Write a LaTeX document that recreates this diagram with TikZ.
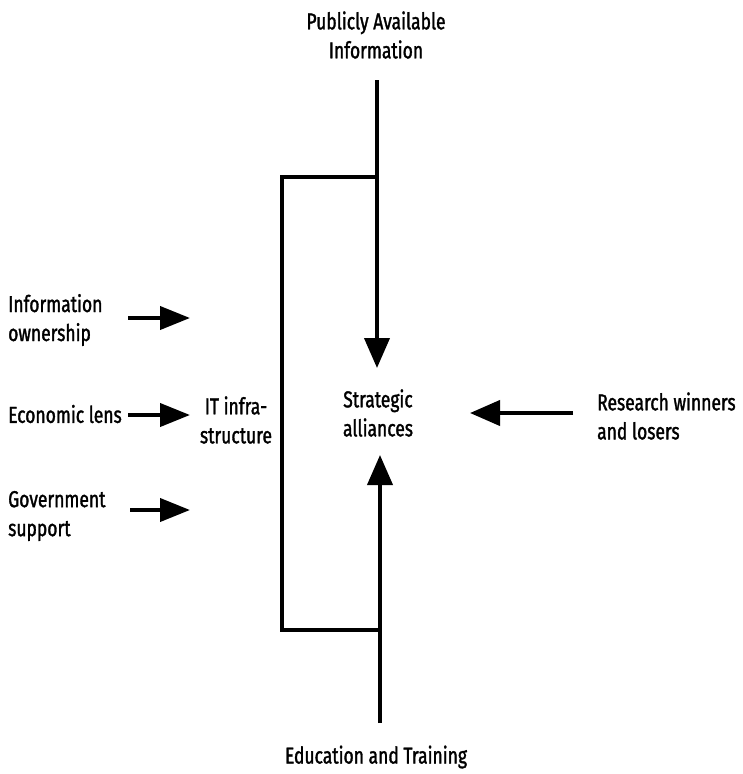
\documentclass[tikz,border=0pt]{standalone}
\usepackage{fontspec}
\setmainfont{Fira Sans}[FakeStretch=0.76, FakeBold=1.4]
\usetikzlibrary{arrows.meta}
\begin{document}
\begin{tikzpicture}[x=1pt,y=-1pt,
  label/.style={inner sep=0pt, align=center, font=\fontsize{23}{29}\selectfont},
  lab/.style={label, align=left, anchor=west},
  flow/.style={line width=4pt, -{Triangle[length=30pt,width=25pt]}},
  side/.style={line width=4pt, -{Triangle[length=30pt,width=23pt]}},
  frame/.style={line width=4pt, line join=miter}]
\useasboundingbox[fill=white] (0,0) rectangle (743,774);

% labels
\node[label] (pub) at (376,35) {Publicly Available\\Information};
\node[lab] (own) at (8,320) {Information\\ownership};
\node[lab] (eco) at (8,414) {Economic lens};
\node[lab] (gov) at (8,516) {Government\\support};
\node[label] (it) at (236,420) {IT infra-\\structure};
\node[label] (sa) at (378,413) {Strategic\\alliances};
\node[lab] (rw) at (597,416) {Research winners\\and losers};
\node[label] (edu) at (376,757) {Education and Training};

% arrow end points
\coordinate (topStart) at (377,80);
\coordinate (topTip) at (377,368);
\coordinate (botStart) at (380,723);
\coordinate (botTip) at (380,455);
\coordinate (ownA) at (128,318);
\coordinate (ownB) at (190,318);
\coordinate (ecoA) at (128,415);
\coordinate (ecoB) at (190,415);
\coordinate (govA) at (130,510);
\coordinate (govB) at (190,510);
\coordinate (rwA) at (573,413);
\coordinate (rwB) at (470,413);
\coordinate (brTop) at (377,177);
\coordinate (brBot) at (380,630);

% bracket around the IT block
\draw[frame] (brTop) -- (282,177) -- (282,630) -- (brBot);

% main flows into strategic alliances
\draw[flow] (topStart) -- (topTip);
\draw[flow] (botStart) -- (botTip);
\draw[flow] (rwA) -- (rwB);

% inputs to the IT infrastructure
\draw[side] (ownA) -- (ownB);
\draw[side] (ecoA) -- (ecoB);
\draw[side] (govA) -- (govB);
\end{tikzpicture}
\end{document}
